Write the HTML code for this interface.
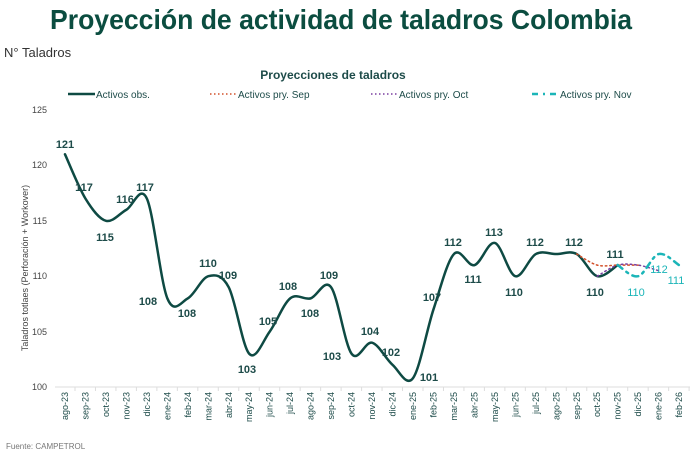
<!DOCTYPE html>
<html><head><meta charset="utf-8"><style>
html,body{margin:0;padding:0;background:#fff;}
svg{display:block;font-family:"Liberation Sans",sans-serif;}
</style></head><body>
<svg id="s" width="700" height="456" viewBox="0 0 700 456">
<text x="341" y="29" text-anchor="middle" font-size="28" font-weight="bold" fill="#0b4d40" textLength="582" lengthAdjust="spacingAndGlyphs">Proyección de actividad de taladros Colombia</text>
<text x="4" y="57" font-size="13" fill="#333">N° Taladros</text>
<text x="333" y="79" text-anchor="middle" font-size="12" font-weight="bold" fill="#1d4b49">Proyecciones de taladros</text>
<line x1="68" y1="94" x2="95" y2="94" stroke="#0e4a43" stroke-width="2.5"/>
<text x="96" y="98" font-size="10" fill="#1d4b49">Activos obs.</text>
<line x1="210" y1="94" x2="236" y2="94" stroke="#d2502a" stroke-width="1.5" stroke-dasharray="1.5 2.5"/>
<text x="238" y="98" font-size="10" fill="#1d4b49">Activos pry. Sep</text>
<line x1="371" y1="94" x2="397" y2="94" stroke="#7a3fa0" stroke-width="1.5" stroke-dasharray="1.5 2.5"/>
<text x="399" y="98" font-size="10" fill="#1d4b49">Activos pry. Oct</text>
<line x1="532" y1="94" x2="560" y2="94" stroke="#1bb5b8" stroke-width="2.5" stroke-dasharray="6 5 2 5"/>
<text x="560" y="98" font-size="10" fill="#1d4b49">Activos pry. Nov</text>
<g font-size="9" fill="#444" text-anchor="end">
<text x="47" y="113">125</text><text x="47" y="168">120</text><text x="47" y="224">115</text>
<text x="47" y="279">110</text><text x="47" y="335">105</text><text x="47" y="390">100</text>
</g>
<text transform="translate(28,268) rotate(-90)" text-anchor="middle" font-size="9" fill="#444">Taladros totlaes (Perforación + Workover)</text>
<line x1="55" y1="387" x2="690" y2="387" stroke="#ddd"/>
<g id="ticks"></g>
<g id="lines"></g>
<g id="labels" font-size="11" font-weight="bold" fill="#1d4b49" text-anchor="middle"></g>
<text x="6" y="449" font-size="8" fill="#777">Fuente: CAMPETROL</text>
</svg>
<script>
var ns="http://www.w3.org/2000/svg";
function X(i){return 65+i*20.47;}
function Y(v){return 387-(v-100)*11.08;}
var months=["ago-23","sep-23","oct-23","nov-23","dic-23","ene-24","feb-24","mar-24","abr-24","may-24","jun-24","jul-24","ago-24","sep-24","oct-24","nov-24","dic-24","ene-25","feb-25","mar-25","abr-25","may-25","jun-25","jul-25","ago-25","sep-25","oct-25","nov-25","dic-25","ene-26","feb-26"];
var t=document.getElementById("ticks");
months.forEach(function(m,i){
 var l=document.createElementNS(ns,"line");l.setAttribute("x1",X(i)+10);l.setAttribute("x2",X(i)+10);l.setAttribute("y1",387);l.setAttribute("y2",391);l.setAttribute("stroke","#ddd");t.appendChild(l);
 var tx=document.createElementNS(ns,"text");tx.setAttribute("transform","translate("+(X(i)+3)+",392) rotate(-90)");tx.setAttribute("text-anchor","end");tx.setAttribute("font-size","9");tx.setAttribute("fill","#1d4b49");tx.textContent=m;t.appendChild(tx);
});
function path(pts){
 var d="M"+pts[0][0]+","+pts[0][1];
 for(var i=0;i<pts.length-1;i++){
  var p0=pts[i-1]||pts[i],p1=pts[i],p2=pts[i+1],p3=pts[i+2]||p2;
  var c1=[p1[0]+(p2[0]-p0[0])/6,p1[1]+(p2[1]-p0[1])/6],c2=[p2[0]-(p3[0]-p1[0])/6,p2[1]-(p3[1]-p1[1])/6];
  d+=" C"+c1+" "+c2+" "+p2;
 }
 return d;
}
function series(start,vals,stroke,w,dash){
 var pts=vals.map(function(v,i){return [X(start+i),Y(v)];});
 var p=document.createElementNS(ns,"path");p.setAttribute("d",path(pts));p.setAttribute("fill","none");p.setAttribute("stroke",stroke);p.setAttribute("stroke-width",w);
 if(dash)p.setAttribute("stroke-dasharray",dash);p.setAttribute("stroke-linecap","round");
 document.getElementById("lines").appendChild(p);
}
series(0,[121,117,115,116,117,108,108,110,109,103,105,108,108,109,103,104,102,100.8,107,112,111,113,110,112,112,112,110,111],"#0e4a43",2.5);
series(25,[112,111,111,111],"#d2502a",1.5,"1.5 3");
series(26,[110,111,111,110.5],"#7a3fa0",1.5,"1.5 3");
series(27,[111,110,112,111],"#1bb5b8",2.5,"6 5 2 5");
var L=[[121,65,148],[117,84,191],[115,105,241],[116,125,203],[117,145,191],[108,148,305],[108,187,317],[110,208,267],[109,228,279],[103,247,373],[105,268,325],[108,288,290],[108,310,317],[109,329,279],[103,332,360],[104,370,335],[102,391,356],[101,429,381],[107,432,301],[112,453,246],[111,473,283],[113,494,236],[110,514,296],[112,535,246],[112,574,246],[110,595,296],[111,615,258]];
var g=document.getElementById("labels");
L.forEach(function(a){var tx=document.createElementNS(ns,"text");tx.setAttribute("x",a[1]);tx.setAttribute("y",a[2]);tx.textContent=a[0];g.appendChild(tx);});
[[110,636,296],[112,659,273],[111,676,284]].forEach(function(a){var tx=document.createElementNS(ns,"text");tx.setAttribute("x",a[1]);tx.setAttribute("y",a[2]);tx.setAttribute("fill","#1bb5b8");tx.setAttribute("font-weight","normal");tx.textContent=a[0];g.appendChild(tx);});
</script>
</body></html>
